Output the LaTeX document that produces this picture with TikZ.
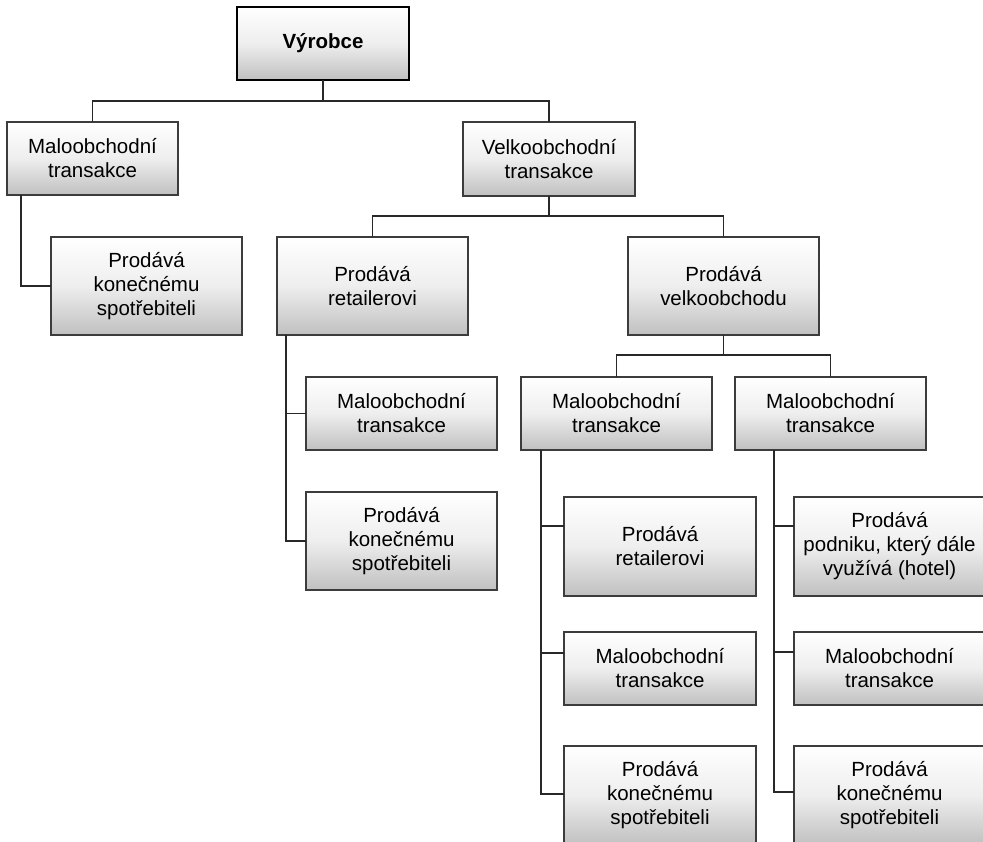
\documentclass[tikz,border=0pt]{standalone}
\usepackage{fontspec}
\setmainfont{Liberation Sans}
\definecolor{boxline}{RGB}{60,60,60}
\definecolor{connline}{RGB}{40,40,40}
\definecolor{boxmid}{RGB}{238,238,238}
\definecolor{boxbot}{RGB}{192,192,192}
\newcommand\mkbox[7][]{%
  \node[box,#1,minimum width={((#5)-(#3))*1pt},minimum height={((#6)-(#4))*1pt}]
    (#2) at ({((#3)+(#5))/2},{((#4)+(#6))/2}) {#7};}
\begin{document}
\begin{tikzpicture}[x=1pt,y=-1pt,
  box/.style={draw=boxline,line width=1.2pt,top color=white,bottom color=boxbot,middle color=boxmid,
    inner sep=0pt,outer sep=0pt,align=center,font=\fontsize{20.5}{24}\selectfont},
  topbox/.style={draw=black,line width=2.6pt,font=\fontsize{20.5}{24}\selectfont\bfseries},
  conn/.style={draw=connline,line width=1.3pt}]
\useasboundingbox (0,0) rectangle (983,842);
\mkbox[topbox]{vyr}{237}{7}{409}{80}{Výrobce}
\mkbox{m1}{7}{122}{178}{195}{Maloobchodní\\transakce}
\mkbox{v1}{463}{122}{635}{196}{Velkoobchodní\\transakce}
\mkbox{p1}{51}{237}{242}{335}{Prodává\\konečnému\\spotřebiteli}
\mkbox{pr}{277}{237}{468}{335}{Prodává\\retailerovi}
\mkbox{pv}{628}{237}{819}{335}{Prodává\\velkoobchodu}
\mkbox{m2}{306}{377}{497}{450}{Maloobchodní\\transakce}
\mkbox{k2}{306}{492}{497}{590}{Prodává\\konečnému\\spotřebiteli}
\mkbox{m3}{521}{377}{712}{450}{Maloobchodní\\transakce}
\mkbox{m4}{735}{377}{926}{450}{Maloobchodní\\transakce}
\mkbox{r3}{564}{497}{756}{596}{Prodává\\retailerovi}
\mkbox{m5}{564}{632}{756}{705}{Maloobchodní\\transakce}
\mkbox{k3}{564}{746}{756}{845}{Prodává\\konečnému\\spotřebiteli}
\mkbox{h4}{794}{497}{985}{596}{Prodává\\podniku, který dále\\využívá (hotel)}
\mkbox{m6}{794}{632}{985}{705}{Maloobchodní\\transakce}
\mkbox{k4}{794}{746}{985}{845}{Prodává\\konečnému\\spotřebiteli}
% connectors
\coordinate (j0) at (323,101);
\draw[conn] (vyr.south) -- (j0);
\draw[conn] (m1.north) |- (j0) -| (v1.north);
\draw[conn] ([xshift=14pt]m1.south west) |- (p1.west);
\coordinate (j1) at (549,216);
\draw[conn] (v1.south) -- (j1);
\draw[conn] (pr.north) |- (j1) -| (pv.north);
\draw[conn] ([xshift=9pt]pr.south west) |- (k2.west);
\draw[conn] ([xshift=9pt]pr.south west) |- (m2.west);
\coordinate (j2) at (723.5,355);
\draw[conn] (pv.south) -- (j2);
\draw[conn] (m3.north) |- (j2) -| (m4.north);
\draw[conn] ([xshift=20pt]m3.south west) |- ([yshift=1.5pt]k3.west);
\draw[conn] ([xshift=20pt]m3.south west) |- ([yshift=15.5pt]m5.west);
\draw[conn] ([xshift=20pt]m3.south west) |- ([yshift=20.5pt]r3.west);
\draw[conn] ([xshift=39pt]m4.south west) |- ([yshift=3.5pt]k4.west);
\draw[conn] ([xshift=39pt]m4.south west) |- ([yshift=16.5pt]m6.west);
\draw[conn] ([xshift=39pt]m4.south west) |- ([yshift=20.5pt]h4.west);
\end{tikzpicture}
\end{document}
